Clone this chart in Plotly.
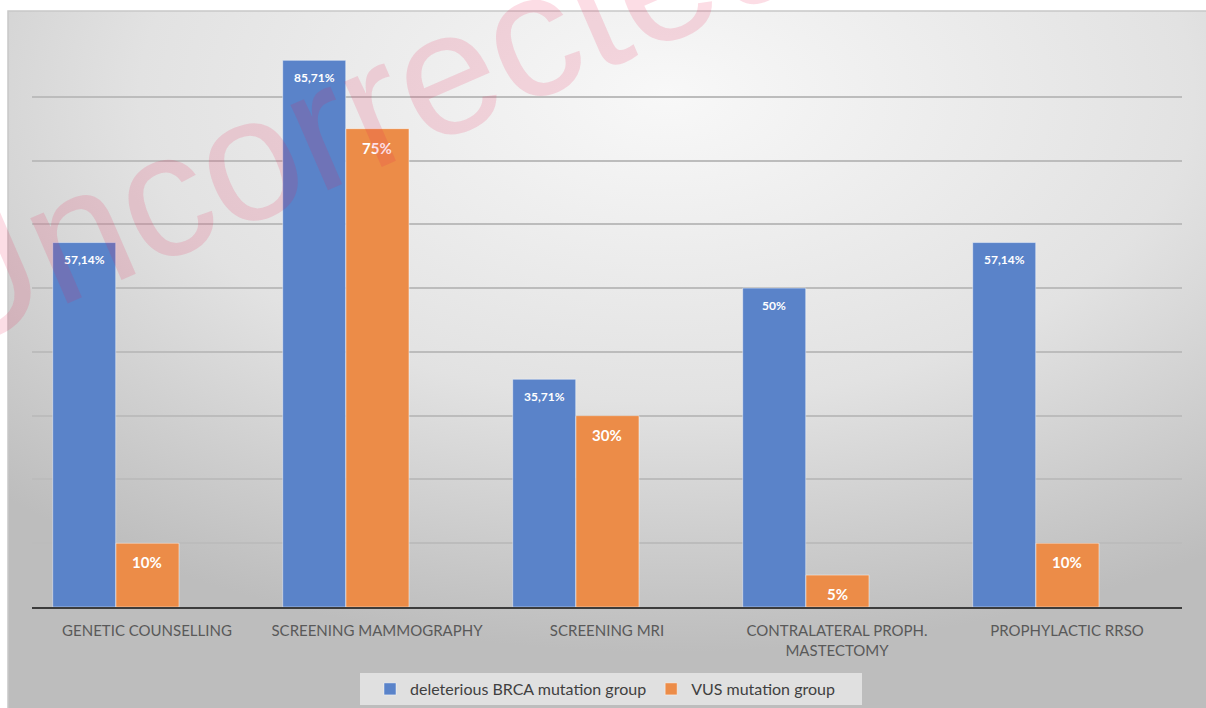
import base64
import plotly.graph_objects as go

categories = ["GENETIC COUNSELLING", "SCREENING MAMMOGRAPHY", "SCREENING MRI",
              "CONTRALATERAL PROPH.<br>MASTECTOMY", "PROPHYLACTIC RRSO"]
brca_values = [57.14, 85.71, 35.71, 50, 57.14]
vus_values = [10, 75, 30, 5, 10]
brca_labels = ["57,14%", "85,71%", "35,71%", "50%", "57,14%"]
vus_labels = ["10%", "75%", "30%", "5%", "10%"]
series_names = ["deleterious BRCA mutation group", "VUS mutation group"]

BLUE = "#5A83C9"
ORANGE = "#EC8C48"
FONT = "Lato"

W, H = 1206, 708
L, R, T, B = 32, 24, 33, 101
PW, PH = W - L - R, H - T - B


def px2x(px):
    return (px - L) / PW


def px2y(py):
    return (H - B - py) / PH


xs = list(range(len(categories)))
bar_w = 0.274
off_blue = -0.41
off_orange = -0.135

fig = go.Figure()
fig.add_trace(go.Bar(x=xs, y=brca_values, name=series_names[0], width=bar_w, offset=off_blue,
                     marker=dict(color=BLUE, line=dict(color="rgba(255,255,255,0.45)", width=1))))
fig.add_trace(go.Bar(x=xs, y=vus_values, name=series_names[1], width=bar_w, offset=off_orange,
                     marker=dict(color=ORANGE, line=dict(color="rgba(255,255,255,0.45)", width=1))))

annotations = []
for i, (v, t) in enumerate(zip(brca_values, brca_labels)):
    annotations.append(dict(x=i + off_blue + bar_w / 2, y=v, xref="x", yref="y", text=t, showarrow=False,
                            yshift=-17, font=dict(family=FONT, size=12, color="white", weight="bold")))
for i, (v, t) in enumerate(zip(vus_values, vus_labels)):
    annotations.append(dict(x=i + off_orange + bar_w / 2, y=v, xref="x", yref="y", text=t, showarrow=False,
                            yshift=-19, font=dict(family=FONT, size=15, color="white", weight="bold")))

# watermark
annotations.append(dict(x=px2x(355), y=px2y(112), xref="paper", yref="paper", xanchor="center",
                        yanchor="middle", text="Uncorrected", showarrow=False, textangle=-23.5,
                        font=dict(family="Liberation Sans", size=176, color="rgba(235,30,80,0.15)")))

# gradient background for chart area
svg = ('<svg xmlns="http://www.w3.org/2000/svg" width="1198" height="697" viewBox="0 0 1198 697" '
       'preserveAspectRatio="none"><defs><radialGradient id="g" cx="0.55" cy="0.12" r="0.8">'
       '<stop offset="0" stop-color="#f8f8f8"/><stop offset="0.55" stop-color="#e2e2e2"/>'
       '<stop offset="1" stop-color="#bdbdbd"/></radialGradient></defs>'
       '<rect x="0" y="0" width="1198" height="697" fill="url(#g)"/></svg>')
src = "data:image/svg+xml;base64," + base64.b64encode(svg.encode()).decode()
box_l, box_t = 8, 11
fig.add_layout_image(dict(source=src, xref="paper", yref="paper",
                          x=px2x(box_l), y=px2y(box_t),
                          sizex=(W - box_l) / PW, sizey=(H - box_t) / PH,
                          sizing="stretch", xanchor="left", yanchor="top", layer="below"))
fig.add_shape(type="rect", xref="paper", yref="paper",
              x0=px2x(box_l), x1=px2x(W + 5), y0=px2y(H + 5), y1=px2y(box_t),
              line=dict(color="#c8c8c8", width=1.5), fillcolor="rgba(0,0,0,0)", layer="below")
# legend box
fig.add_shape(type="rect", xref="paper", yref="paper",
              x0=px2x(360), x1=px2x(862), y0=px2y(705), y1=px2y(673),
              line=dict(width=0), fillcolor="rgba(240,240,240,0.7)", layer="below")

fig.update_layout(
    width=W, height=H,
    margin=dict(l=L, r=R, t=T, b=B, pad=0, autoexpand=False),
    paper_bgcolor="white", plot_bgcolor="rgba(0,0,0,0)",
    barmode="overlay",
    showlegend=True,
    legend=dict(orientation="h", x=px2x(370), xanchor="left", y=px2y(689), yanchor="middle",
                bgcolor="rgba(0,0,0,0)", font=dict(family=FONT, size=16, color="#404040"),
                itemwidth=30, traceorder="normal"),
    annotations=annotations,
    xaxis=dict(range=[-0.5, 4.5], tickmode="array", tickvals=xs, ticktext=categories,
               showgrid=False, zeroline=False, showline=True, linecolor="#3c3c3c", linewidth=2,
               ticks="", ticklabelstandoff=9, automargin=False,
               tickfont=dict(family=FONT, size=15, color="#595959"), fixedrange=True),
    yaxis=dict(range=[0, 90], dtick=10, showticklabels=False, showgrid=True, gridcolor="#bcbcbc",
               gridwidth=1.5, zeroline=False, showline=False, automargin=False, fixedrange=True),
)

fig.write_html("out.html")
